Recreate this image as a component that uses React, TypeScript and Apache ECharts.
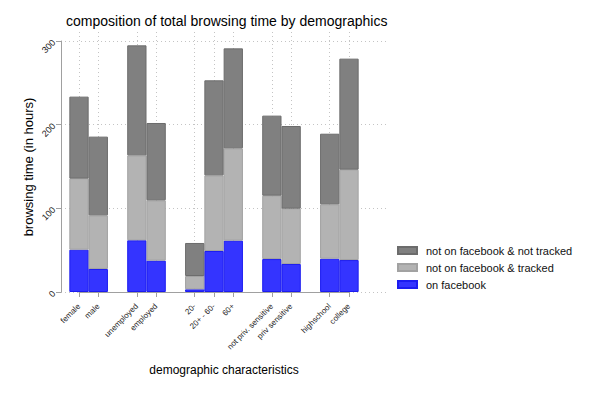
import React, { useEffect, useRef } from "react";
import * as echarts from "echarts";

const categories = [
  "female", "male", "",
  "unemployed", "employed", "",
  "20-", "20+ - 60-", "60+", "",
  "not priv. sensitive", "priv sensitive", "",
  "highschool", "college",
];
const onFacebook = [50.6, 27.5, null, 61.8, 37.5, null, 3.2, 49, 61.4, null, 39.4, 33.5, null, 39.8, 38.2];
const notFbTracked = [84.9, 64.1, null, 101.5, 72.1, null, 15.9, 90.4, 110.3, null, 75.7, 66.1, null, 65, 108];
const notFbNotTracked = [98, 94.1, null, 131.5, 92.4, null, 39.5, 113.6, 119.5, null, 95.7, 98.8, null, 84.4, 132.7];
const yTicks = [0, 100, 200, 300];

const seriesNames = ["on facebook", "not on facebook & tracked", "not on facebook & not tracked"];

const FONT = "'Liberation Sans', Arial, Helvetica, sans-serif";

export default function App() {
  const ref = useRef<HTMLDivElement>(null);
  useEffect(() => {
    document.body.style.margin = "0";
    const chart = echarts.init(ref.current!, null, { renderer: "svg" });
    const dotted = { type: [1, 3] as any, color: "#c4c4c4", width: 1 };
    const notGap = (_i: number, v: string) => v !== "";
    const barCommon = {
      type: "bar" as const,
      stack: "total",
      xAxisIndex: 1,
      yAxisIndex: 1,
      barWidth: 19.3,
      clip: false,
    };
    chart.setOption({
      animation: false,
      textStyle: { fontFamily: FONT },
      grid: [
        { left: 61, top: 41, width: 327, height: 251 },
        { left: 79, top: 32, width: 270, height: 265 },
      ],
      xAxis: [
        { gridIndex: 0, type: "value", show: false, min: 0, max: 1 },
        {
          gridIndex: 1,
          type: "category",
          data: categories,
          boundaryGap: false,
          offset: 4,
          axisLine: { show: true, lineStyle: { color: "#a0a0a0", width: 1 } },
          axisTick: { show: true, length: 5, interval: notGap, lineStyle: { color: "#a0a0a0" } },
          axisLabel: { rotate: 45, fontSize: 8, color: "#222", margin: 4, interval: 0, fontFamily: FONT },
          splitLine: { show: true, interval: notGap, lineStyle: dotted },
        },
      ],
      yAxis: [
        {
          gridIndex: 0,
          type: "value",
          min: yTicks[0],
          max: yTicks[yTicks.length - 1],
          interval: 100,
          axisLine: { show: true, lineStyle: { color: "#a0a0a0", width: 1 } },
          axisTick: { show: true, length: 5, lineStyle: { color: "#a0a0a0" } },
          axisLabel: { rotate: 45, fontSize: 9, color: "#222", margin: 7, fontFamily: FONT },
          splitLine: { show: true, lineStyle: dotted },
        },
        { gridIndex: 1, type: "value", show: false, min: -5.976, max: 310.76 },
      ],
      legend: {
        orient: "vertical",
        left: 397,
        top: 245,
        padding: 0,
        itemWidth: 19,
        itemHeight: 7,
        itemGap: 6,
        icon: "rect",
        data: [seriesNames[2], seriesNames[1], seriesNames[0]],
        textStyle: { fontSize: 11, color: "#111", fontFamily: FONT, padding: [0, 0, 0, 4] },
      },
      graphic: [
        {
          type: "text",
          left: 66,
          top: 14,
          style: { text: "composition of total browsing time by demographics", font: `14px ${FONT}`, fill: "#000" },
        },
        {
          type: "text",
          x: 28,
          y: 167,
          rotation: Math.PI / 2,
          style: {
            text: "browsing time (in hours)",
            font: `13px ${FONT}`,
            fill: "#000",
            align: "center",
            verticalAlign: "middle",
          },
        },
        {
          type: "text",
          x: 224,
          y: 370,
          style: {
            text: "demographic characteristics",
            font: `12px ${FONT}`,
            fill: "#000",
            align: "center",
            verticalAlign: "middle",
          },
        },
      ],
      series: [
        {
          ...barCommon,
          name: seriesNames[0],
          data: onFacebook,
          itemStyle: { color: "#3434ff", borderColor: "#1c1cf0", borderWidth: 1 },
        },
        {
          ...barCommon,
          name: seriesNames[1],
          data: notFbTracked,
          itemStyle: { color: "#b3b3b3", borderColor: "#a2a2a2", borderWidth: 1 },
        },
        {
          ...barCommon,
          name: seriesNames[2],
          data: notFbNotTracked,
          itemStyle: { color: "#808080", borderColor: "#6c6c6c", borderWidth: 1 },
        },
      ],
    });
    return () => chart.dispose();
  }, []);
  return <div ref={ref} style={{ width: 598, height: 399 }} />;
}
